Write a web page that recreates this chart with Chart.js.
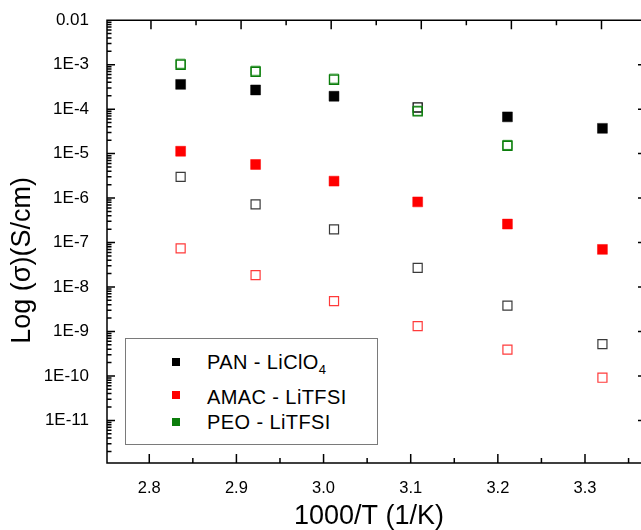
<!DOCTYPE html>
<html>
<head>
<meta charset="utf-8">
<script src="https://cdn.jsdelivr.net/npm/chart.js@4/dist/chart.umd.min.js"></script>
<style>
html,body{margin:0;padding:0;background:#fff;}
#wrap{position:relative;width:641px;height:530px;overflow:hidden;background:#fff;}
#c{position:absolute;left:0;top:0;}
#legend{position:absolute;left:125px;top:338px;width:253px;height:107px;border:1px solid #7a7a7a;box-sizing:border-box;background:#fff;font-family:"Liberation Sans",Arial,sans-serif;font-size:20px;letter-spacing:0.4px;color:#000;}
#legend .sw{position:absolute;width:8px;height:8px;}
#legend .lbl{position:absolute;white-space:nowrap;line-height:20px;height:20px;}
#legend sub{font-size:13px;vertical-align:-5px;line-height:0;letter-spacing:0;}
</style>
</head>
<body>
<div id="wrap">
<canvas id="c" width="660" height="530"></canvas>
<div id="legend"></div>
</div>
<script>
// ---- data ----
const xValues = [2.836, 2.922, 3.012, 3.108, 3.211, 3.320];            // 1000/T (1/K)

const panFilled  = [3.6e-4, 2.7e-4, 1.95e-4, null, 6.7e-5, 3.7e-5];    // PAN - LiClO4 (filled black)
const amacFilled = [1.13e-5, 5.7e-6, 2.4e-6, 8.2e-7, 2.6e-7, 7.0e-8];  // AMAC - LiTFSI (filled red)
const peoOpenA   = [1.05e-3, 7.3e-4, 4.85e-4, 9.2e-5, 1.57e-5, null];  // PEO - LiTFSI (open green)
const peoOpenB   = [1.0e-3, 6.9e-4, 4.6e-4, 8.9e-5, 1.5e-5, null];     // PEO - LiTFSI (open green, overlapping)
const panOpenTop = [null, null, null, 1.09e-4, null, null];            // open dark square at 3.1
const blackOpen  = [3.0e-6, 7.2e-7, 1.97e-7, 2.7e-8, 3.8e-9, 5.2e-10]; // open black
const redOpen    = [7.4e-8, 1.85e-8, 4.8e-9, 1.32e-9, 3.9e-10, 9.1e-11]; // open red

const xMajorTicks = [2.8, 2.9, 3.0, 3.1, 3.2, 3.3];
const yDecades = [-12, -11, -10, -9, -8, -7, -6, -5, -4, -3, -2];

const legendLabels = ['PAN - LiClO4', 'AMAC - LiTFSI', 'PEO - LiTFSI'];
const legendColors = ['#000000', '#ff0000', '#0b7d0b'];

// ---- helpers ----
const pts = arr => xValues.map((x, i) => ({x: x, y: arr[i]})).filter(p => p.y !== null);
const FONT = '"Liberation Sans", Arial, sans-serif';

function isDecade(v) {
  const e = Math.log10(v);
  return Math.abs(e - Math.round(e)) < 1e-6;
}

const frameTicks = {
  id: 'frameTicks',
  afterDraw(chart) {
    const {ctx, chartArea: a, scales} = chart;
    ctx.save();
    ctx.strokeStyle = '#000';
    ctx.lineWidth = 1.5;
    ctx.beginPath();
    ctx.rect(a.left, a.top, a.right - a.left, a.bottom - a.top);
    scales.x.ticks.forEach(t => {
      const p = scales.x.getPixelForValue(t.value);
      const maj = xMajorTicks.some(m => Math.abs(m - t.value) < 1e-6);
      ctx.moveTo(p, a.bottom); ctx.lineTo(p, a.bottom - (maj ? 9 : 5));
    });
    scales.x2.ticks.forEach(t => {
      const p = scales.x2.getPixelForValue(t.value);
      const maj = xMajorTicks.some(m => Math.abs(m - t.value) < 1e-6);
      ctx.moveTo(p, a.top); ctx.lineTo(p, a.top + (maj ? 9 : 5));
    });
    scales.y.ticks.forEach(t => {
      const p = scales.y.getPixelForValue(t.value);
      const L = isDecade(t.value) ? 8 : 4.5;
      ctx.moveTo(a.left, p); ctx.lineTo(a.left + L, p);
      ctx.moveTo(a.right, p); ctx.lineTo(a.right - L, p);
    });
    ctx.stroke();
    ctx.restore();
  }
};

const openStyle = (color, w) => ({
  pointStyle: 'rect', pointRadius: 6.4, pointHoverRadius: 6.4,
  pointBackgroundColor: 'rgba(255,255,255,0)', pointBorderColor: color, pointBorderWidth: w,
  showLine: false
});
const filledStyle = color => ({
  pointStyle: 'rect', pointRadius: 7, pointHoverRadius: 7,
  pointBackgroundColor: color, pointBorderColor: color, pointBorderWidth: 0.5,
  showLine: false
});

const xMinorTicks = xMajorTicks.map(v => +(v + 0.05).toFixed(2));
const xTickList = s => { s.ticks = xMajorTicks.concat(xMinorTicks).sort((a, b) => a - b).map(v => ({value: v})); };
const sp = n => '\u00A0'.repeat(n);

const chart = new Chart(document.getElementById('c'), {
  type: 'scatter',
  data: {
    datasets: [
      Object.assign({label: legendLabels[0], data: pts(panFilled)}, filledStyle(legendColors[0])),
      Object.assign({label: legendLabels[1], data: pts(amacFilled)}, filledStyle(legendColors[1])),
      Object.assign({label: legendLabels[2], data: pts(peoOpenB)}, openStyle('#0b7d0b', 1.4)),
      Object.assign({label: 'PEO (overlap)', data: pts(peoOpenA)}, openStyle('#3aa03a', 1.0)),
      Object.assign({label: 'PAN open', data: pts(panOpenTop)}, openStyle('#111111', 1.3)),
      Object.assign({label: 'open black', data: pts(blackOpen)}, openStyle('#3a3a3a', 1.2)),
      Object.assign({label: 'open red', data: pts(redOpen)}, openStyle('#ff3a3a', 1.2))
    ]
  },
  options: {
    responsive: false,
    animation: false,
    devicePixelRatio: 1,
    layout: {padding: 0},
    plugins: {legend: {display: false}, tooltip: {enabled: false}},
    scales: {
      x: {
        type: 'linear', position: 'bottom', min: 2.7515, max: 3.37,
        grid: {display: false}, border: {display: false},
        afterBuildTicks: xTickList,
        afterFit: s => { s.height = 67; },
        ticks: {
          autoSkip: false, maxRotation: 0, padding: 8, color: '#000',
          font: {family: FONT, size: 16.5},
          callback: v => xMajorTicks.some(m => Math.abs(m - v) < 1e-6) ? v.toFixed(1) : ''
        },
        title: {display: true, text: '1000/T (1/K)' + sp(2), color: '#000', font: {family: FONT, size: 27, lineHeight: 1}, padding: {top: 0, bottom: 0}}
      },
      x2: {
        type: 'linear', position: 'top', min: 2.7512, max: 3.3494,
        grid: {display: false}, border: {display: false},
        afterBuildTicks: xTickList,
        afterFit: s => { s.height = 20; },
        ticks: {display: false, autoSkip: false}
      },
      y: {
        type: 'logarithmic', position: 'left', min: 1.1e-12, max: 0.01,
        grid: {display: false}, border: {display: false},
        afterBuildTicks: s => {
          const t = [];
          yDecades.forEach(e => { for (let k = 1; k <= 9; k++) { const v = k * Math.pow(10, e); if (v >= s.min * 0.9999 && v <= s.max * 1.0001) t.push({value: v}); } });
          s.ticks = t;
        },
        afterFit: s => { s.width = 107; },
        ticks: {
          autoSkip: false, padding: 10, color: '#000',
          font: {family: FONT, size: 17},
          callback: v => {
            if (!isDecade(v)) return '';
            const e = Math.round(Math.log10(v));
            return e === -2 ? '0.01' : '1E' + e;
          }
        },
        title: {display: true, text: 'Log (σ)(S/cm)' + sp(5), color: '#000', font: {family: FONT, size: 27, lineHeight: 1}, padding: {top: 9, bottom: 0}}
      },
      yR: {
        type: 'linear', position: 'right', min: 0, max: 1,
        grid: {display: false}, border: {display: false},
        afterFit: s => { s.width = 14; },
        ticks: {display: false}
      }
    }
  },
  plugins: [frameTicks]
});

// ---- HTML legend built from the series names/colours ----
const legendRowsTop = [12.5, 47.5, 73];
const legendSwTop = [19.3, 52, 78.7];
const lg = document.getElementById('legend');
legendLabels.forEach((name, i) => {
  const sw = document.createElement('div');
  sw.className = 'sw';
  sw.style.left = '46px';
  sw.style.top = legendSwTop[i] + 'px';
  sw.style.background = legendColors[i];
  lg.appendChild(sw);
  const lb = document.createElement('div');
  lb.className = 'lbl';
  lb.style.left = '81px';
  lb.style.top = legendRowsTop[i] + 'px';
  lb.innerHTML = name.replace(/([A-Za-z])(\d+)$/, '$1<sub>$2</sub>');
  lg.appendChild(lb);
});
</script>
</body>
</html>
